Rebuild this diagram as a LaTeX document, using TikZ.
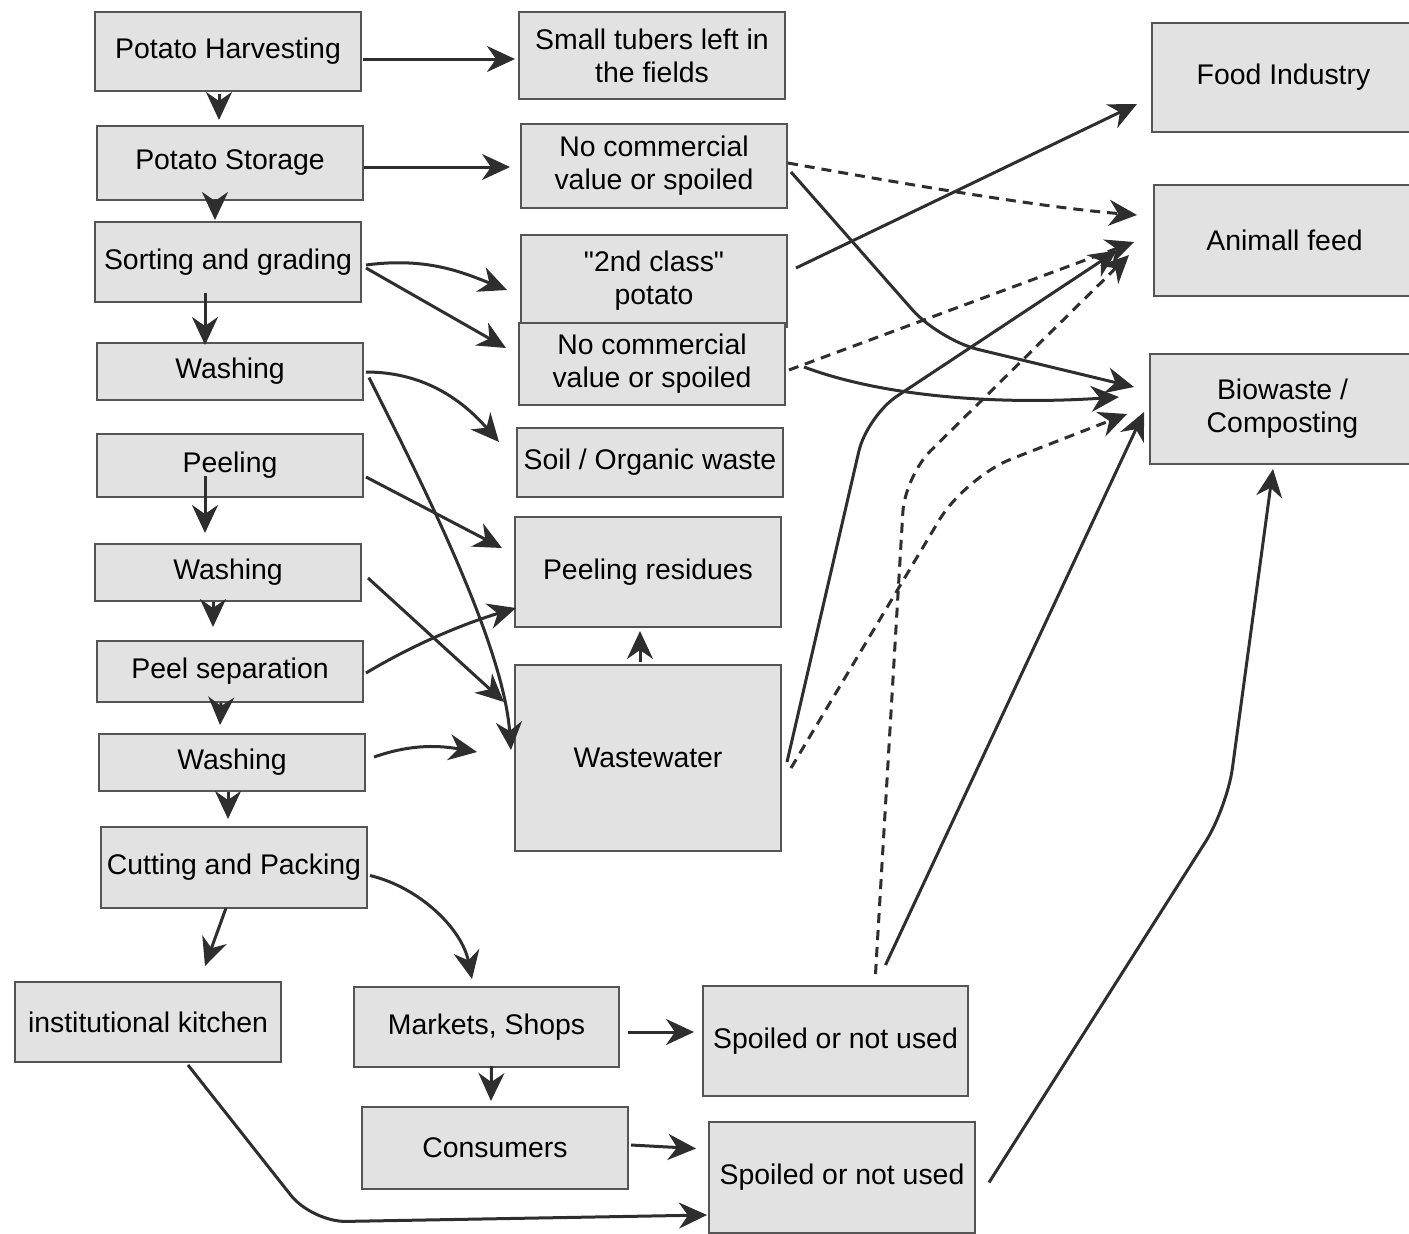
\documentclass[tikz,border=0pt]{standalone}
\usepackage{fontspec}
\setmainfont{Liberation Sans}
\usetikzlibrary{arrows.meta,calc}
\definecolor{boxfill}{HTML}{E2E2E2}
\definecolor{boxline}{HTML}{555555}
\definecolor{arrowcol}{HTML}{2E2E2E}
\newcommand{\dq}{\XeTeXglyph\XeTeXcharglyph"22\relax}

\begin{document}
\begin{tikzpicture}[x=0.5pt,y=-0.5pt,
  box/.style={draw=boxline,fill=boxfill,line width=1pt,inner sep=0pt,align=center,font=\fontsize{14.2}{16.5}\selectfont,minimum width=133pt},
  arr/.style={draw=arrowcol,line width=1.5pt,-{Stealth[length=14pt,width=13pt,inset=4.5pt]}},
  dsh/.style={arr,dash pattern=on 5pt off 3.5pt}]
\useasboundingbox (0,0) rectangle (1409,1233);

% process steps
\node[box,minimum height=39.5pt] (harv) at (228,51.5) {Potato Harvesting};
\node[box,minimum height=37pt] (stor) at (230,163) {Potato Storage};
\node[box,minimum height=40pt] (sort) at (228,262) {Sorting and grading};
\node[box,minimum height=28.5pt] (washA) at (230,371.5) {Washing};
\node[box,minimum height=31.5pt] (peel) at (230,465.5) {Peeling};
\node[box,minimum height=28.5pt] (washB) at (228,572.5) {Washing};
\node[box,minimum height=30.5pt] (psep) at (230,671.5) {Peel separation};
\node[box,minimum height=28.5pt] (washC) at (232,762.5) {Washing};
\node[box,minimum height=40.5pt] (cut) at (234,867.5) {Cutting and Packing};
\node[box,minimum height=40pt] (kitch) at (148,1022) {institutional kitchen};

% losses
\node[box,minimum height=43.5pt] (tubers) at (652,55.5) {Small tubers left in\\the fields};
\node[box,minimum height=42pt] (nocomA) at (654,166) {No commercial\\value or spoiled};
\node[box,minimum height=46pt] (second) at (654,281) {\dq2nd class\dq\\potato};
\node[box,minimum height=41pt] (nocomB) at (652,364) {No commercial\\value or spoiled};
\node[box,minimum height=34.5pt] (soil) at (650,462.5) {Soil / Organic waste};
\node[box,minimum height=55pt] (pres) at (648,572) {Peeling residues};
\node[box,minimum height=93pt] (wwater) at (648,758) {Wastewater};
\node[box,minimum width=132.5pt,minimum height=40pt] (market) at (486.5,1027) {Markets, Shops};
\node[box,minimum height=41pt] (cons) at (495,1148) {Consumers};
\node[box,minimum width=132.5pt,minimum height=55pt] (spoilA) at (835.5,1041) {Spoiled or not used};
\node[box,minimum height=55.5pt] (spoilB) at (842,1177.5) {Spoiled or not used};

% uses
\node[box,minimum width=131.5pt,minimum height=54.5pt] (food) at (1283.5,77.5) {Food Industry};
\node[box,minimum width=130.5pt,minimum height=55.5pt] (animal) at (1284.5,240.5) {Animall feed};
\node[box,minimum width=132.5pt,minimum height=55pt] (bio) at (1282.5,409) {Biowaste /\\Composting};

% main chain
\draw[arr] ($(harv.south)+(-9,2)$) -- ($(stor.north)+(-11,-5)$);
\draw[arr] ($(stor.south)+(-15,-2)$) -- ($(sort.north)+(-13,-1)$);
\draw[arr] ($(sort.south)+(-23,-10)$) -- ($(washA.north)+(-25,3)$);
\draw[arr] ($(peel.south)+(-25,-22)$) -- ($(washB.north)+(-23,-10)$);
\draw[arr] ($(washB.south)+(-15,0)$) -- ($(psep.north)+(-17,-13)$);
\draw[arr] ($(psep.south)+(-9,0)$) -- ($(washC.north)+(-12,-8)$);
\draw[arr] ($(washC.south)+(-4,0)$) -- ($(cut.north)+(-6,-7)$);
\draw[arr] ($(cut.south)+(-8,-1)$) -- ($(kitch.north)+(57,-15)$);
\draw[arr] ($(cut.east)+(2,8)$) .. controls +(50,12) and +(-10,-50) .. ($(market.north)+(-14.5,-7)$);
\draw[arr] ($(market.south)+(5,-2)$) -- ($(cons.north)+(-4,-5)$);
\draw[arr] ($(market.east)+(8,5)$) -- ($(spoilA.west)+(-8,-9)$);
\draw[arr] ($(cons.east)+(2,-3)$) -- ($(spoilB.west)+(-12,-29)$);
\draw[arr,rounded corners=17pt] ($(kitch.south)+(40,2)$) -- (312,1222) -- ($(spoilB.west)+(-1,37.5)$);

% to the losses
\draw[arr] ($(harv.east)+(1,7.5)$) -- ($(tubers.west)+(-3,3.5)$);
\draw[arr] ($(stor.east)+(0,4)$) -- ($(nocomA.west)+(-10,1)$);
\draw[arr] ($(sort.east)+(4,3)$) .. controls +(60,-8) and +(-45,-18) .. ($(second.west)+(-13,9)$);
\draw[arr] ($(sort.east)+(4,6)$) -- ($(nocomB.west)+(-12,-16)$);
\draw[arr] ($(washA.east)+(2,0.5)$) .. controls +(60,0) and +(-35,-40) .. ($(soil.west)+(-17,-20.5)$);
\draw[arr] ($(washA.east)+(5,6)$) .. controls +(45,90) and +(-8,-110) .. ($(wwater.west)+(-3,-8)$);
\draw[arr] ($(peel.east)+(2,11.5)$) -- ($(pres.west)+(-12,-24)$);
\draw[arr] ($(washB.east)+(6,5.5)$) -- ($(wwater.west)+(-10,-56)$);
\draw[arr] ($(psep.east)+(2,1.5)$) .. controls +(50,-30) and +(-50,15) .. ($(pres.west)+(2,36)$);
\draw[arr] ($(washC.east)+(8,-5.5)$) .. controls +(40,-14) and +(-35,-6) .. ($(wwater.west)+(-37,-6)$);
\draw[arr] ($(wwater.north)+(-8,-2)$) -- ($(pres.south)+(-8,3)$);

% to the uses
\draw[arr] ($(second.east)+(8,-13)$) -- ($(food.west)+(-14,26.5)$);
\draw[dsh] ($(nocomA.east)+(0,-3)$) .. controls +(100,18) and +(-100,-8) .. ($(animal.west)+(-16,-25.5)$);
\draw[arr,rounded corners=20pt] ($(nocomA.east)+(3,6)$) -- (939,340) -- ($(bio.west)+(-15,-22)$);
\draw[dsh] ($(nocomB.east)+(3,6)$) -- ($(animal.west)+(-19,1.5)$);
\draw[arr] ($(nocomB.east)+(18,3)$) .. controls +(80,30) and +(-120,8) .. ($(bio.west)+(-30,-12)$);
\draw[arr,rounded corners=18pt] ($(wwater.east)+(5,4)$) -- (867,416) -- ($(animal.west)+(-36,10)$);
\draw[dsh,rounded corners=25pt] ($(wwater.east)+(9,10)$) -- (965,477) -- ($(bio.west)+(-22,5)$);
\draw[dsh,rounded corners=18pt] ($(spoilA.north)+(40,-11)$) -- (905,476) -- ($(animal.west)+(-24,14.5)$);
\draw[arr] ($(spoilA.north)+(50,-20)$) -- ($(bio.west)+(-5,3)$);
\draw[arr,rounded corners=20pt] ($(spoilB.east)+(13,5)$) -- (1227,808) -- ($(bio.south)+(-9.5,4)$);
\end{tikzpicture}
\end{document}
